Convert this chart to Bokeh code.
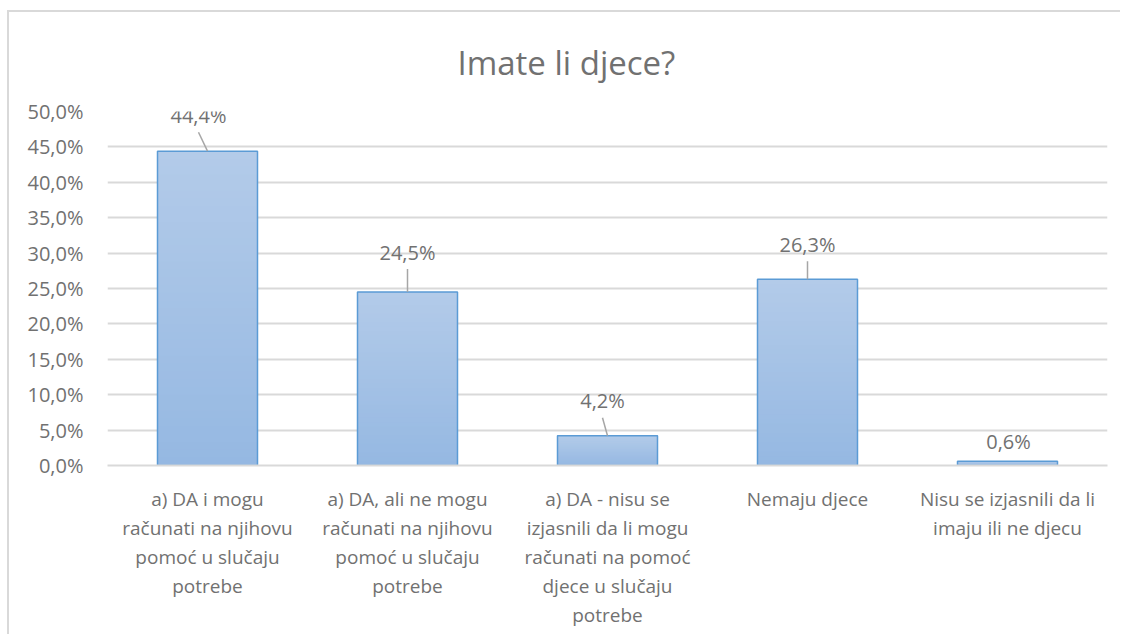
from bokeh.plotting import figure
from bokeh.models import Range1d, FixedTicker, ColumnDataSource, CustomJSTickFormatter
from bokeh.core.properties import value
from bokeh.embed import file_html
from bokeh.resources import INLINE

# ---- data ----
title_text = "Imate li djece?"
categories = [
    "a) DA i mogu\nračunati na njihovu\npomoć u slučaju\npotrebe",
    "a) DA, ali ne mogu\nračunati na njihovu\npomoć u slučaju\npotrebe",
    "a) DA - nisu se\nizjasnili da li mogu\nračunati na pomoć\ndjece u slučaju\npotrebe",
    "Nemaju djece",
    "Nisu se izjasnili da li\nimaju ili ne djecu",
]
values = [44.4, 24.5, 4.2, 26.3, 0.6]
value_labels = ["44,4%", "24,5%", "4,2%", "26,3%", "0,6%"]
y_ticks = [0, 5, 10, 15, 20, 25, 30, 35, 40, 45, 50]

# ---- style ----
FONT = "Open Sans"
TXT = "#717171"
GRID = "#d9d9d9"
BAR_TOP = (0xB3, 0xCB, 0xE9)
BAR_BOT = (0x95, 0xB8, 0xE2)
OUTLINE = "#5B9BD5"
# label placement in pixels (dx, dy above bar top, leader line?)
lab_dx = [-9, 0, -5, 0, 1]
lab_dy = [36, 40, 35, 35, 20]
leader = [True, True, True, True, False]

W, H = 1113, 624
ML, MR, MT, MB = 98, 15, 98, 171
frame_w = W - ML - MR
frame_h = H - MT - MB
ymax = 50
xs = list(range(len(values)))
px_x = frame_w / len(values)
px_y = frame_h / ymax

p = figure(width=W, height=H, output_backend="svg", toolbar_location=None,
           x_range=Range1d(-0.5, len(values) - 0.5), y_range=Range1d(0, ymax),
           min_border_left=ML, min_border_right=MR, min_border_top=MT, min_border_bottom=MB)
p.styles = {"border-left": "2px solid #d9d9d9", "border-top": "2px solid #d9d9d9",
            "margin-left": "7px", "margin-top": "10px"}
p.outline_line_color = None
p.background_fill_color = "white"
p.border_fill_color = "white"

p.title.text = title_text
p.title.align = "left"
p.title.offset = 350
p.title.vertical_align = "middle"
p.title.text_font = FONT
p.title.text_font_style = "normal"
p.title.text_font_size = "33px"
p.title.text_color = TXT
p.title.standoff = 52

# gradient bars (overlapping slices derived from values)
N = 40
l, r, b, t, c = [], [], [], [], []
for i, v in enumerate(values):
    for k in range(N):
        f = (k + 0.5) / N
        col = tuple(int(round(BAR_BOT[j] + (BAR_TOP[j] - BAR_BOT[j]) * f)) for j in range(3))
        l.append(i - 0.25); r.append(i + 0.25)
        b.append(v * k / N); t.append(v)
        c.append("#%02x%02x%02x" % col)
p.quad(left=l, right=r, bottom=b, top=t, fill_color=c, line_color=None)
p.vbar(x=xs, top=values, width=0.5, fill_alpha=0, line_color=OUTLINE, line_width=1.5)

# leader lines
x0, y0, x1, y1 = [], [], [], []
for i, v in enumerate(values):
    if leader[i]:
        x0.append(i + lab_dx[i] / px_x)
        y0.append(v + (lab_dy[i] - 17) / px_y)
        x1.append(i)
        y1.append(v)
p.segment(x0=x0, y0=y0, x1=x1, y1=y1, line_color="#a6a6a6", line_width=1.5)

# data labels
src = ColumnDataSource(dict(
    x=[i + lab_dx[i] / px_x for i in xs],
    y=[v + lab_dy[i] / px_y for i, v in enumerate(values)],
    t=value_labels))
p.text(x="x", y="y", text="t", source=src, text_align="center", text_baseline="middle",
       text_font=value(FONT), text_font_size="20px", text_color=TXT)

# axes
p.xaxis.ticker = FixedTicker(ticks=xs)
p.xaxis.major_label_overrides = {i: c for i, c in enumerate(categories)}
p.xaxis.major_tick_line_color = None
p.xaxis.minor_tick_line_color = None
p.xaxis.axis_line_color = GRID
p.xaxis.axis_line_width = 2
p.xaxis.major_label_text_font = FONT
p.xaxis.major_label_text_font_size = "19px"
p.xaxis.major_label_text_color = TXT
p.xaxis.major_label_text_line_height = 1.12
p.xaxis.major_label_standoff = 14

p.yaxis.ticker = FixedTicker(ticks=y_ticks)
p.yaxis.formatter = CustomJSTickFormatter(code="return tick.toFixed(1).replace('.', ',') + '%';")
p.yaxis.axis_line_color = None
p.yaxis.major_tick_line_color = None
p.yaxis.minor_tick_line_color = None
p.yaxis.major_label_text_font = FONT
p.yaxis.major_label_text_font_size = "20px"
p.yaxis.major_label_text_color = TXT
p.yaxis.major_label_standoff = 18

p.xgrid.grid_line_color = None
p.ygrid.grid_line_color = GRID
p.ygrid.grid_line_width = 2

open("out.html", "w").write(file_html(p, INLINE))
